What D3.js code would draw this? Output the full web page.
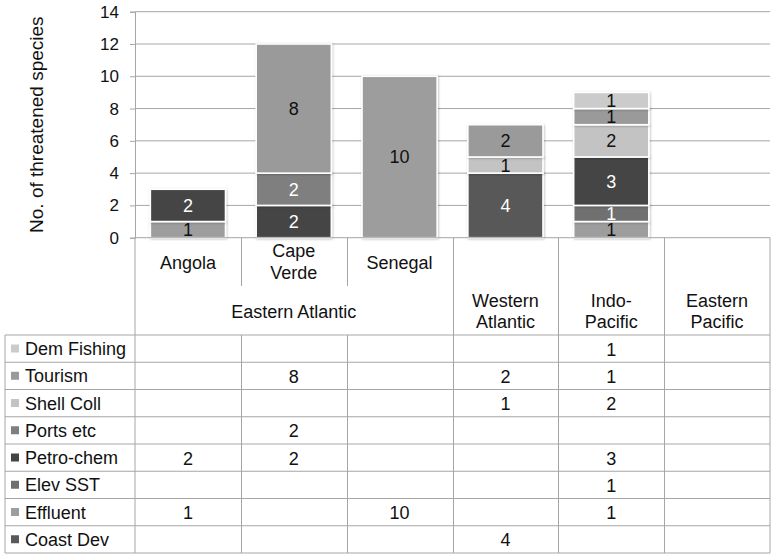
<!DOCTYPE html>
<html>
<head>
<meta charset="utf-8">
<script src="https://cdn.jsdelivr.net/npm/d3@7"></script>
<style>
  html, body { margin: 0; padding: 0; background: #fff; }
  svg { display: block; font-family: "Liberation Sans", Arial, sans-serif; }
</style>
</head>
<body>
<svg id="chart" width="776" height="559"></svg>
<script>
// ---- Data ----
const categories = ["Angola", "Cape Verde", "Senegal", "Western Atlantic", "Indo-Pacific", "Eastern Pacific"];
const categoryLabels = [["Angola"], ["Cape", "Verde"], ["Senegal"], [], [], []];
const groupLabels = [["Eastern Atlantic"], ["Western", "Atlantic"], ["Indo-", "Pacific"], ["Eastern", "Pacific"]];
const groupSpans = [3, 1, 1, 1];

// stacking order, bottom to top
const seriesNames = ["Coast Dev", "Effluent", "Elev SST", "Petro-chem", "Ports etc", "Shell Coll", "Tourism", "Dem Fishing"];
const coastDev   = [null, null, null, 4, null, null];
const effluent   = [1, null, 10, null, 1, null];
const elevSST    = [null, null, null, null, 1, null];
const petroChem  = [2, 2, null, null, 3, null];
const portsEtc   = [null, 2, null, null, null, null];
const shellColl  = [null, null, null, 1, 2, null];
const tourism    = [null, 8, null, 2, 1, null];
const demFishing = [null, null, null, null, 1, null];
const seriesValues = [coastDev, effluent, elevSST, petroChem, portsEtc, shellColl, tourism, demFishing];

const seriesColors = ["#595959", "#9d9d9d", "#6f6f6f", "#444444", "#7f7f7f", "#c3c3c3", "#9a9a9a", "#cbcbcb"];
const labelColors  = ["#fff", "#111", "#fff", "#fff", "#fff", "#111", "#111", "#111"];
const yTicks = [0, 2, 4, 6, 8, 10, 12, 14];
const yTitle = "No. of threatened species";

// ---- Layout ----
const svg = d3.select("#chart");
const plotL = 135, plotR = 770, plotT = 11.7, plotB = 237.7;
const tableL = 5, rowTop = 335, rowBottom = 553;
const lineColor = "#a6a6a6";
const textColor = "#111";

const x = d3.scaleBand().domain(categories).range([plotL, plotR]).paddingInner(0.29).paddingOuter(0.145);
const y = d3.scaleLinear().domain([0, 14]).range([plotB, plotT]);
const step = x.step();
const colLeft = c => x(c) - step * 0.145;

const defs = svg.append("defs");
const f = defs.append("filter").attr("id", "shadow").attr("x", "-10%").attr("y", "-10%").attr("width", "130%").attr("height", "130%");
f.append("feDropShadow").attr("dx", 0.8).attr("dy", 0.8).attr("stdDeviation", 1.2).attr("flood-color", "#000").attr("flood-opacity", 0.25);

// gridlines + y axis
const yAxis = d3.axisLeft(y).tickValues(yTicks).tickSize(5).tickPadding(11).tickFormat(d3.format("d"));
const gAxis = svg.append("g").attr("transform", `translate(${plotL},0)`).call(yAxis);
gAxis.select(".domain").attr("stroke", lineColor);
gAxis.selectAll(".tick line").attr("stroke", lineColor);
gAxis.selectAll(".tick text").attr("font-size", 17).attr("fill", textColor)
  .attr("font-family", "'Liberation Sans', Arial, sans-serif");
svg.append("g").selectAll("line").data(yTicks.filter(d => d > 0)).join("line")
  .attr("x1", plotL).attr("x2", plotR).attr("y1", d => y(d)).attr("y2", d => y(d))
  .attr("stroke", lineColor).attr("stroke-width", 1);

// y title
svg.append("text").attr("transform", `translate(43,${(plotT + plotB) / 2}) rotate(-90)`)
  .attr("text-anchor", "middle").attr("font-size", 19).attr("fill", textColor).text(yTitle);

// bars
const stackData = categories.map((c, i) => {
  const o = { cat: c };
  seriesNames.forEach((s, k) => o[s] = seriesValues[k][i] || 0);
  return o;
});
const stack = d3.stack().keys(seriesNames)(stackData);
const gBars = svg.append("g");
stack.forEach((layer, k) => {
  const segs = layer.map((d, i) => ({ y0: d[0], y1: d[1], cat: categories[i], v: seriesValues[k][i] }))
    .filter(d => d.v);
  gBars.selectAll(null).data(segs).join("rect")
    .attr("x", d => x(d.cat)).attr("width", x.bandwidth())
    .attr("y", d => y(d.y1)).attr("height", d => y(d.y0) - y(d.y1))
    .attr("fill", seriesColors[k]).attr("stroke", "#fff").attr("stroke-width", 1.6)
    .attr("filter", "url(#shadow)");
  gBars.selectAll(null).data(segs).join("text")
    .attr("x", d => x(d.cat) + x.bandwidth() / 2)
    .attr("y", d => (y(d.y0) + y(d.y1)) / 2 + 6.5)
    .attr("text-anchor", "middle").attr("font-size", 18).attr("fill", labelColors[k])
    .text(d => d.v);
});

// x axis line
svg.append("line").attr("x1", plotL).attr("x2", plotR).attr("y1", plotB).attr("y2", plotB).attr("stroke", lineColor);

// ---- Data table ----
const gT = svg.append("g").attr("stroke", lineColor).attr("stroke-width", 1);
gT.append("line").attr("x1", plotL).attr("x2", plotL).attr("y1", plotB).attr("y2", rowBottom);
gT.append("line").attr("x1", plotR).attr("x2", plotR).attr("y1", plotB).attr("y2", rowBottom);
gT.append("line").attr("x1", tableL).attr("x2", tableL).attr("y1", rowTop).attr("y2", rowBottom);
categories.slice(1).forEach((c, i) => {
  const xx = Math.round(colLeft(c)) + 0.5;
  const inGroup = i + 1 < groupSpans[0];
  if (inGroup) {
    gT.append("line").attr("x1", xx).attr("x2", xx).attr("y1", plotB).attr("y2", 286);
    gT.append("line").attr("x1", xx).attr("x2", xx).attr("y1", rowTop).attr("y2", rowBottom);
  } else {
    gT.append("line").attr("x1", xx).attr("x2", xx).attr("y1", plotB).attr("y2", rowBottom);
  }
});
const rowH = (rowBottom - rowTop) / seriesNames.length;
d3.range(seriesNames.length + 1).forEach(r => {
  const yy = rowTop + r * rowH;
  gT.append("line").attr("x1", tableL).attr("x2", plotR).attr("y1", yy).attr("y2", yy);
});

// category labels
const gLab = svg.append("g").attr("font-size", 18).attr("fill", textColor).attr("text-anchor", "middle");
categories.forEach((c, i) => {
  const lines = categoryLabels[i];
  const cx = x(c) + x.bandwidth() / 2;
  const lh = 21.5;
  const base = 269 - (lines.length - 1) * lh / 2;
  lines.forEach((t, j) => gLab.append("text").attr("x", cx).attr("y", base + j * lh - (lines.length > 1 ? 1 : 0)).text(t));
});
let ci = 0;
groupLabels.forEach((lines, g) => {
  const first = categories[ci], last = categories[ci + groupSpans[g] - 1];
  const cx = (colLeft(first) + colLeft(last) + step) / 2;
  ci += groupSpans[g];
  const lh = 21.5;
  const base = 317.5 - (lines.length - 1) * lh / 2;
  lines.forEach((t, j) => gLab.append("text").attr("x", cx).attr("y", base + j * lh).text(t));
});

// legend rows (top to bottom = reversed stack order)
const rowOrder = seriesNames.map((s, k) => k).reverse();
rowOrder.forEach((k, r) => {
  const top = rowTop + r * rowH;
  svg.append("rect").attr("x", 11).attr("y", top + 9.5).attr("width", 8).attr("height", 8).attr("fill", seriesColors[k]);
  svg.append("text").attr("x", 25).attr("y", top + 20).attr("font-size", 18).attr("fill", textColor).text(seriesNames[k]);
  categories.forEach((c, i) => {
    const v = seriesValues[k][i];
    if (v) svg.append("text").attr("x", x(c) + x.bandwidth() / 2).attr("y", top + 20.5)
      .attr("text-anchor", "middle").attr("font-size", 18).attr("fill", textColor).text(v);
  });
});
</script>
</body>
</html>
